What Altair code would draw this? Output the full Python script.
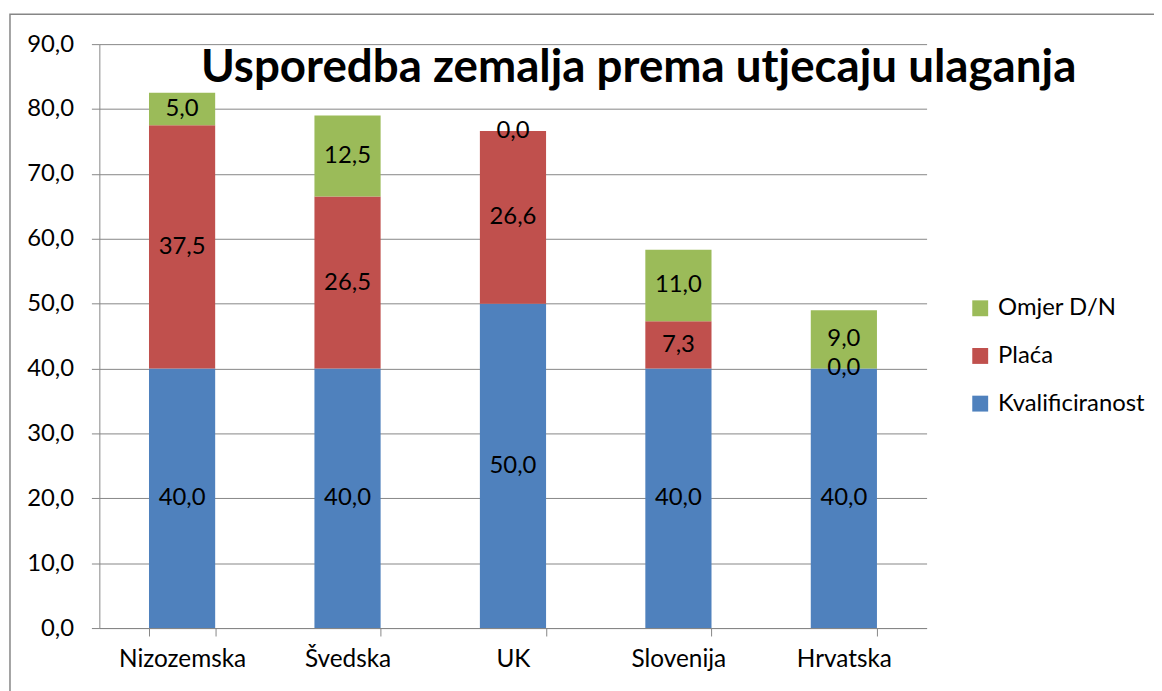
import altair as alt
import pandas as pd

countries = ["Nizozemska", "Švedska", "UK", "Slovenija", "Hrvatska"]
series = ["Kvalificiranost", "Plaća", "Omjer D/N"]
kvalificiranost = [40.0, 40.0, 50.0, 40.0, 40.0]
placa = [37.5, 26.5, 26.6, 7.3, 0.0]
omjer = [5.0, 12.5, 0.0, 11.0, 9.0]
colors = {"Kvalificiranost": "#4F81BD", "Plaća": "#C0504D", "Omjer D/N": "#9BBB59"}
legend_order = ["Omjer D/N", "Plaća", "Kvalificiranost"]
y_ticks = [0, 10, 20, 30, 40, 50, 60, 70, 80, 90]
title_text = "Usporedba zemalja prema utjecaju ulaganja"

rows = []
for i, c in enumerate(countries):
    for k, (s, vals) in enumerate(zip(series, [kvalificiranost, placa, omjer])):
        rows.append({"country": c, "series": s, "value": vals[i], "order": k})
df = pd.DataFrame(rows)

FONT = "Lato"
GRID = "#868686"
W, H = 833, 588

base = alt.Chart(df).transform_stack(
    stack="value", groupby=["country"], as_=["y0", "y1"],
    sort=[alt.SortField("order", order="ascending")]
).transform_calculate(
    mid="(datum.y0 + datum.y1) / 2",
    label="replace(format(datum.value, '.1f'), '.', ',')"
)

xenc = alt.X("country:N", sort=countries, title=None,
             scale=alt.Scale(paddingInner=0.6, paddingOuter=0.3),
             axis=alt.Axis(labelAngle=0, tickBand="extent", domainColor=GRID,
                           tickColor=GRID, tickSize=8, labelFontSize=24.5,
                           labelFont=FONT, labelColor="black", labelPadding=12,
                           grid=False))

bars = base.mark_bar().encode(
    x=xenc,
    y=alt.Y("y0:Q", title=None,
            scale=alt.Scale(domain=[0, 90], nice=False),
            axis=alt.Axis(values=y_ticks, grid=True, gridColor=GRID,
                          domainColor=GRID, tickColor=GRID, tickSize=8,
                          labelFontSize=24, labelFont=FONT, labelColor="black",
                          labelPadding=18,
                          labelExpr="replace(format(datum.value, '.1f'), '.', ',')")),
    y2="y1:Q",
    color=alt.Color("series:N",
                    scale=alt.Scale(domain=legend_order,
                                    range=[colors[s] for s in legend_order]),
                    legend=alt.Legend(title=None, orient="none", legendX=875,
                                      legendY=254, symbolType="square",
                                      symbolSize=256, symbolStrokeWidth=0,
                                      labelFontSize=24, labelFont=FONT,
                                      labelColor="black", rowPadding=24,
                                      labelOffset=6, padding=0)),
)

labels = base.mark_text(font=FONT, fontSize=24, color="black").encode(
    x=alt.X("country:N", sort=countries),
    y=alt.Y("mid:Q"),
    text="label:N",
)

title = alt.Chart(pd.DataFrame({"t": [title_text]})).mark_text(
    font=FONT, fontSize=46, fontWeight="bold", color="black"
).encode(x=alt.value(543), y=alt.value(24), text="t:N")

border = alt.Chart(pd.DataFrame({"t": [0]})).mark_rect(
    fillOpacity=0, stroke=GRID, strokeWidth=1.5
).encode(x=alt.value(-90), x2=alt.value(1400), y=alt.value(-30), y2=alt.value(900))

chart = alt.layer(border, bars, labels, title).properties(
    width=W, height=H,
    autosize=alt.AutoSizeParams(type="none"),
    padding={"left": 92, "top": 34, "right": 229, "bottom": 61},
).configure_view(stroke=None)

chart.save("out.html", embed_options={"renderer": "svg", "actions": False})
